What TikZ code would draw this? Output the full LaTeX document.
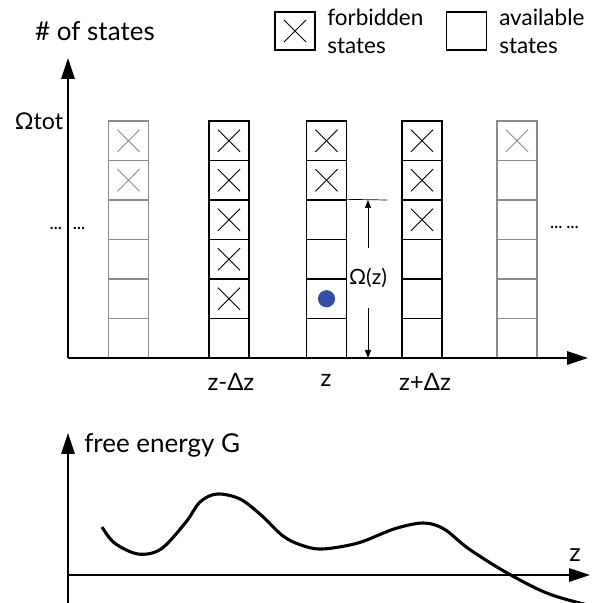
\documentclass[tikz,border=0pt]{standalone}
\usepackage{fontspec}
\setmainfont{Lato}
\usetikzlibrary{arrows.meta,shapes.misc}
\definecolor{dotblue}{RGB}{52,78,165}

\begin{document}
\begin{tikzpicture}[x=0.025cm, y=-0.025cm,
	every node/.style={font=\fontsize{17}{20}\selectfont, inner sep=0pt},
	axis/.style={line width=1.25pt, -{Triangle[length=0.52cm, width=0.33cm]}},
	cell/.style={draw, line width=0.9pt, minimum width=1cm, minimum height=0.9875cm},
	xmark/.style={cross out, draw, line width=0.6pt, minimum size=0.53cm},
	dim/.style={line width=0.5pt, -{Triangle[length=0.2cm, width=0.15cm]}}]
	\useasboundingbox (0,0) rectangle (612,603);
	% columns of states
	\foreach \col/\cx/\nx/\shade in {a/128.5/2/black!45, b/229/5/black, c/326.5/2/black, d/422/3/black, e/517/1/black!45}
		\foreach \row in {1,...,6} {
			\node[cell, draw=\shade] (\col\row) at (\cx, 101.25+39.5*\row) {};
			\ifnum\row>\nx\else \node[xmark, draw=\shade] (x\col\row) at (\col\row) {};\fi
		}
	\node[circle, fill=dotblue, minimum size=0.43cm] (dot) at (c5) {};
	% axes
	\coordinate (o) at (68,358);
	\coordinate (ytip) at (68,58);
	\coordinate (ztip) at (588,358);
	\draw[axis] (o) -- (ytip);
	\draw[axis] (o) -- (ztip);
	\node[font=\fontsize{18.5}{20}\selectfont] (ylab) at (95,31) {\# of states};
	\node[font=\fontsize{16.5}{20}\selectfont] (omtot) at (39,121) {Ωtot};
	\node[font=\bfseries\fontsize{11}{12}\selectfont] (ldots) at (67.5,228) {…\hskip 8pt…};
	\node[font=\bfseries\fontsize{11}{12}\selectfont] (rdots) at (564.5,227) {…\hskip 3pt…};
	\node (lzm) at (231,382) {z-Δz};
	\node (lz) at (326,380) {z};
	\node (lzp) at (425,382) {z+Δz};
	% Omega(z)
	\coordinate (otop) at (368,200);
	\coordinate (obot) at (368,358);
	\coordinate (tickend) at (387,200);
	\draw[line width=0.5pt] (c3.north east) -- (tickend);
	\node[font=\fontsize{15}{18}\selectfont, inner ysep=0.5cm] (omz) at (368,278) {Ω(z)};
	\draw[dim] (omz) -- (otop);
	\draw[dim] (omz) -- (obot);
	% legend
	\node[cell, minimum height=0.95cm] (fbox) at (295,31) {};
	\node[xmark] (fx) at (fbox) {};
	\node[anchor=west, align=left, font=\fontsize{16}{20}\selectfont] (ftext) at (327,31) {forbidden\\states};
	\node[cell, minimum height=0.95cm] (abox) at (466.5,31) {};
	\node[anchor=west, align=left, font=\fontsize{16}{20}\selectfont] (atext) at (499,31) {available\\states};
	% free energy
	\coordinate (go) at (68,575);
	\coordinate (gbot) at (68,603);
	\coordinate (gtip) at (68,433);
	\coordinate (gend) at (590,575);
	\draw[axis] (gbot) -- (gtip);
	\draw[axis] (go) -- (gend);
	\node[anchor=west, font=\fontsize{18.5}{20}\selectfont] (glab) at (84,445) {free energy G};
	\node[font=\fontsize{18}{20}\selectfont] (gz) at (575,555) {z};
	\draw[line width=2.2pt] plot[smooth, tension=0.55] coordinates {(102,527) (114.5,543) (138,554) (161,549) (186,522) (200,502) (217,494) (240,499) (261,515) (283,536) (301,545) (322,549) (358,543) (394,529) (423,523) (444,529) (469,549) (509,574) (552,595) (612,611)};
\end{tikzpicture}
\end{document}
